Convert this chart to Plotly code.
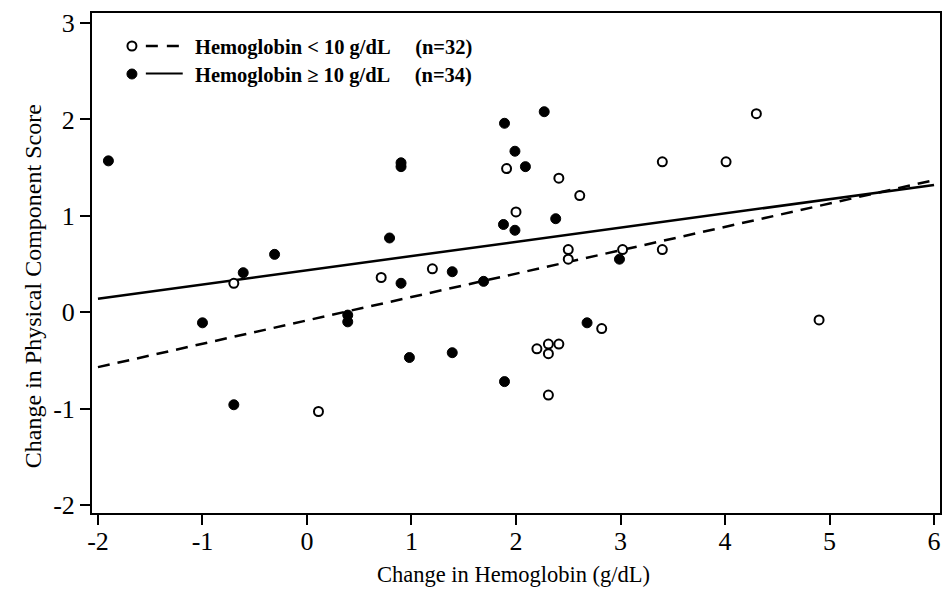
import plotly.graph_objects as go

# Hemoglobin >= 10 g/dL (filled)
hi_x = [-1.90, -1.00, -0.70, -0.61, -0.31, 0.39, 0.39, 0.79, 0.90, 0.90, 0.90, 0.98,
        1.39, 1.39, 1.69, 1.89, 1.88, 1.89, 1.99, 1.99, 2.09, 2.27, 2.38, 2.68, 2.99]
hi_y = [1.57, -0.11, -0.96, 0.41, 0.60, -0.03, -0.10, 0.77, 1.55, 1.51, 0.30, -0.47,
        0.42, -0.42, 0.32, 1.96, 0.91, -0.72, 1.67, 0.85, 1.51, 2.08, 0.97, -0.11, 0.55]

# Hemoglobin < 10 g/dL (open)
lo_x = [-0.70, 0.11, 0.71, 1.20, 1.91, 2.00, 2.41, 2.61, 2.50, 2.50, 2.20, 2.31,
        2.31, 2.41, 2.31, 2.82, 3.02, 3.40, 3.40, 4.01, 4.30, 4.90]
lo_y = [0.30, -1.03, 0.36, 0.45, 1.49, 1.04, 1.39, 1.21, 0.65, 0.55, -0.38, -0.33,
        -0.43, -0.33, -0.86, -0.17, 0.65, 1.56, 0.65, 1.56, 2.06, -0.08]

# Regression lines (endpoints)
fit_x = [-2, 6]
hi_fit_y = [0.14, 1.32]
lo_fit_y = [-0.57, 1.37]

x_ticks = [-2, -1, 0, 1, 2, 3, 4, 5, 6]
y_ticks = [-2, -1, 0, 1, 2, 3]

fig = go.Figure()
fig.add_trace(go.Scatter(x=fit_x, y=lo_fit_y, mode="lines",
                         line=dict(color="black", width=2.5, dash="12px,8px"), showlegend=False))
fig.add_trace(go.Scatter(x=fit_x, y=hi_fit_y, mode="lines",
                         line=dict(color="black", width=2.5), showlegend=False))
fig.add_trace(go.Scatter(x=lo_x, y=lo_y, mode="markers",
                         marker=dict(symbol="circle", size=9, color="white",
                                     line=dict(color="black", width=2)), showlegend=False))
fig.add_trace(go.Scatter(x=hi_x, y=hi_y, mode="markers",
                         marker=dict(symbol="circle", size=10, color="black",
                                     line=dict(color="black", width=1)), showlegend=False))

font_family = "Liberation Serif, Times New Roman, serif"

# Manual legend (paper coordinates)
shapes = [
    dict(type="circle", xref="paper", yref="paper", x0=0.0418, x1=0.0524, y0=0.925, y1=0.943,
         line=dict(color="black", width=2), fillcolor="white"),
    dict(type="line", xref="paper", yref="paper", x0=0.0635, x1=0.107, y0=0.934, y1=0.934,
         line=dict(color="black", width=2.5, dash="12px,9px")),
    dict(type="circle", xref="paper", yref="paper", x0=0.0412, x1=0.053, y0=0.868, y1=0.888,
         line=dict(color="black", width=1), fillcolor="black"),
    dict(type="line", xref="paper", yref="paper", x0=0.0635, x1=0.107, y0=0.879, y1=0.879,
         line=dict(color="black", width=2)),
]
annotations = [
    dict(text="<b>Hemoglobin &lt; 10 g/dL     (n=32)</b>", xref="paper", yref="paper",
         x=0.119, y=0.930, xanchor="left", yanchor="middle", showarrow=False,
         font=dict(family=font_family, size=20.5, color="black")),
    dict(text="<b>Hemoglobin ≥ 10 g/dL     (n=34)</b>", xref="paper", yref="paper",
         x=0.119, y=0.875, xanchor="left", yanchor="middle", showarrow=False,
         font=dict(family=font_family, size=20.5, color="black")),
    # axis titles
    dict(text="Change in Hemoglobin (g/dL)", xref="paper", yref="paper",
         x=0.497, y=-0.122, xanchor="center", yanchor="middle", showarrow=False,
         font=dict(family=font_family, size=22.5, color="black")),
    dict(text="Change in Physical Component Score", xref="paper", yref="paper",
         x=-0.0694, y=0.454, xanchor="center", yanchor="middle", showarrow=False,
         textangle=-90, font=dict(family=font_family, size=24, color="black")),
]

fig.update_layout(
    width=949, height=591,
    margin=dict(l=92, r=7, t=13, b=78),
    paper_bgcolor="white", plot_bgcolor="white",
    font=dict(family=font_family, color="black"),
    shapes=shapes, annotations=annotations,
)
fig.update_xaxes(range=[-2.057, 6.057], tickvals=x_ticks, ticktext=[str(v) for v in x_ticks],
                 ticks="outside", ticklen=10, tickwidth=1.5, tickcolor="black",
                 ticklabelstandoff=-6,
                 showgrid=False, zeroline=False, showline=True, linewidth=2, linecolor="black",
                 mirror=True, tickfont=dict(size=26))
fig.update_yaxes(range=[-2.083, 3.104], tickvals=y_ticks, ticktext=[str(v) for v in y_ticks],
                 ticks="outside", ticklen=10, tickwidth=1.5, tickcolor="black",
                 showgrid=False, zeroline=False, showline=True, linewidth=2, linecolor="black",
                 mirror=True, tickfont=dict(size=26))

fig.write_html("out.html", config={"displayModeBar": False},
               post_script="document.body.style.margin='0px';document.body.style.overflow='hidden';")
